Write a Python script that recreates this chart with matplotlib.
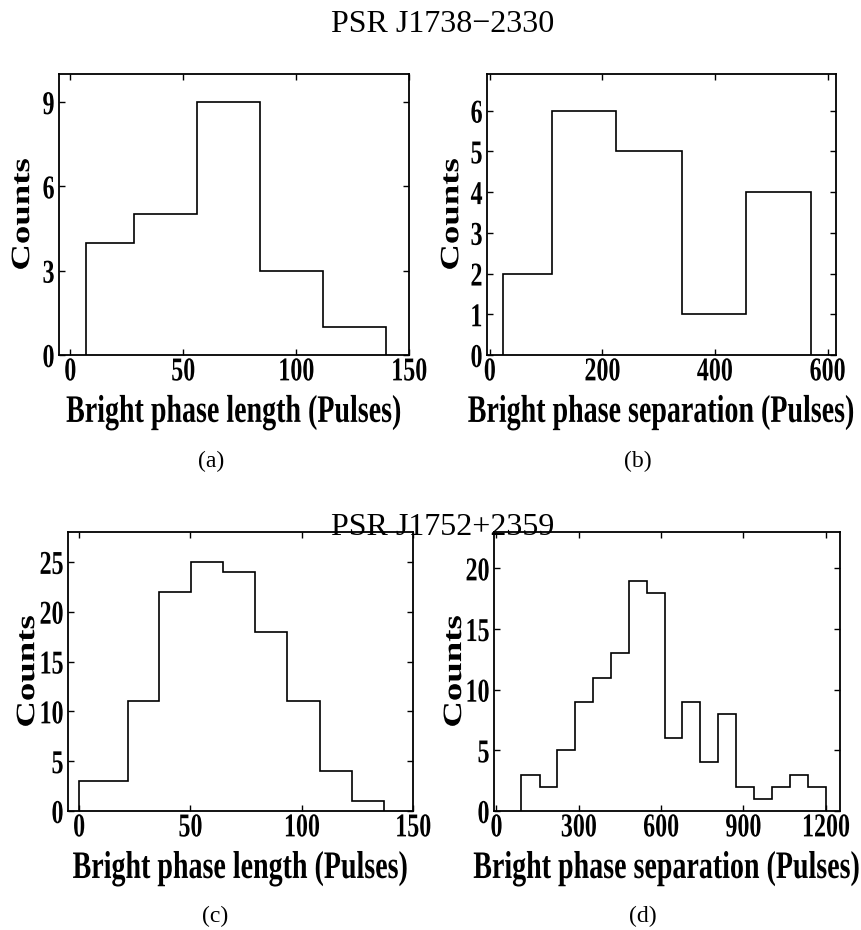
import matplotlib
matplotlib.use('Agg')
import matplotlib.pyplot as plt
import matplotlib.patheffects as pe
from matplotlib.transforms import Affine2D

# histogram data
# PSR J1738-2330
len1_edges = [7, 28, 56, 84, 112, 140]
len1_counts = [4, 5, 9, 3, 1]
sep1_edges = [24, 110, 225, 341, 456, 571]
sep1_counts = [2, 6, 5, 1, 4]
# PSR J1752+2359
len2_edges = [0, 21.8, 36, 50.3, 64.8, 79.2, 93.6, 108, 122.5, 137]
len2_counts = [3, 11, 22, 25, 24, 18, 11, 4, 1]
sep2_edges = [90, 157, 221, 288, 352, 418, 483, 548, 613, 677, 743, 808, 874, 938, 1004, 1069, 1134, 1200]
sep2_counts = [3, 2, 5, 9, 11, 13, 19, 18, 6, 9, 4, 8, 2, 1, 2, 3, 2]

W, H = 862, 930
SX = 0.72  # the panels in the original are squeezed horizontally
plt.rcParams['font.family'] = ['Liberation Serif', 'DejaVu Serif']


class Squeeze(pe.AbstractPathEffect):
    # narrows the glyphs horizontally, anchored at the centre or right edge
    def __init__(self, sx=SX, anchor='center'):
        super().__init__()
        self.sx = sx
        self.anchor = anchor

    def draw_path(self, renderer, gc, tpath, affine, rgbFace=None):
        ext = tpath.get_extents(affine)
        cx = ext.x1 if self.anchor == 'right' else (ext.x0 + ext.x1) / 2
        aff = affine + Affine2D().translate(-cx, 0).scale(self.sx, 1).translate(cx, 0)
        renderer.draw_path(gc, tpath, aff, rgbFace)


fig = plt.figure(figsize=(W / 100, H / 100), dpi=100)

def px_axes(left, right, top, bottom):
    # pixel box (origin top-left) -> figure fractions
    return fig.add_axes([left / W, 1 - bottom / H, (right - left) / W, (bottom - top) / H])

def panel(ax, edges, counts, xlim, ylim, xticks, yticks, xlabel, ylab_x, xlab_y):
    ax.stairs(counts, edges, color='k', linewidth=1.2)
    ax.set_xlim(xlim)
    ax.set_ylim(ylim)
    ax.set_xticks(xticks)
    ax.set_yticks(yticks)
    ax.tick_params(direction='in', top=True, right=True, length=4, width=1, labelsize=24)
    ax.tick_params(axis='x', pad=1)
    ax.tick_params(axis='y', pad=3)
    for lab in ax.get_xticklabels():
        lab.set_fontweight('bold')
        lab.set_path_effects([Squeeze()])
    for lab in ax.get_yticklabels():
        lab.set_fontweight('bold')
        lab.set_path_effects([Squeeze(anchor='right')])
    for s in ax.spines.values():
        s.set_linewidth(1.3)
    xl = ax.set_xlabel(xlabel, fontsize=28, fontweight='bold', va='baseline')
    xl.set_path_effects([Squeeze()])
    ax.xaxis.set_label_coords(0.5, xlab_y)
    yl = ax.set_ylabel('Counts', fontsize=26.5, fontweight='bold', va='center')
    yl.set_path_effects([Squeeze()])
    ax.yaxis.set_label_coords(ylab_x, 0.5)

ax1 = px_axes(59, 409, 74, 355)
panel(ax1, len1_edges, len1_counts, (-5, 150), (0, 10), [0, 50, 100, 150], [0, 3, 6, 9],
      'Bright phase length (Pulses)', -0.103, -0.238)
ax2 = px_axes(487, 836, 74, 355)
panel(ax2, sep1_edges, sep1_counts, (-5, 615), (0, 6.9), [0, 200, 400, 600], range(7),
      'Bright phase separation (Pulses)', -0.100, -0.238)
ax3 = px_axes(68, 413, 532, 811)
panel(ax3, len2_edges, len2_counts, (-5, 150), (0, 28), [0, 50, 100, 150], [0, 5, 10, 15, 20, 25],
      'Bright phase length (Pulses)', -0.116, -0.240)
ax4 = px_axes(494, 840, 532, 811)
panel(ax4, sep2_edges, sep2_counts, (-9, 1252), (0, 23), [0, 300, 600, 900, 1200], [0, 5, 10, 15, 20],
      'Bright phase separation (Pulses)', -0.113, -0.240)

# titles and sub-captions
fig.text(443 / W, 1 - 32 / H, 'PSR J1738\u22122330', fontsize=23, ha='center', va='baseline')
fig.text(443 / W, 1 - 535 / H, 'PSR J1752+2359', fontsize=23, ha='center', va='baseline')
for x, y, s in [(211, 461, '(a)'), (638, 461, '(b)'), (215, 916, '(c)'), (643, 916, '(d)')]:
    fig.text(x / W, 1 - y / H, s, fontsize=17, ha='center', va='center')

fig.savefig('out.png', dpi=100)
